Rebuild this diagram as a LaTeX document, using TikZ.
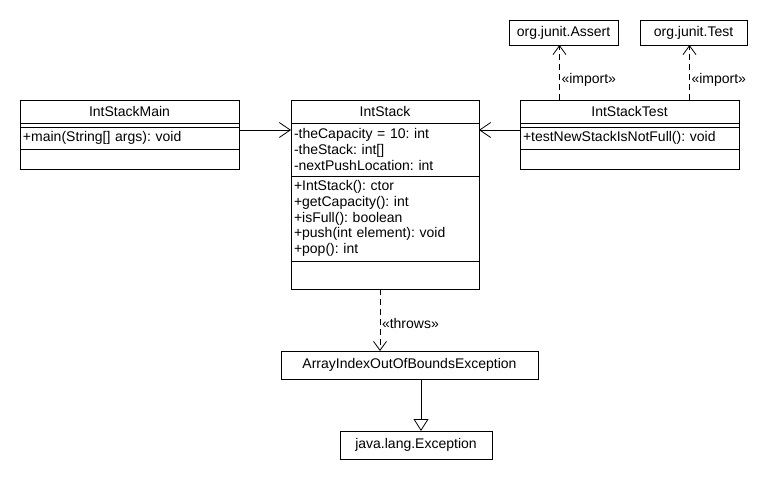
\documentclass[tikz,border=0pt]{standalone}
\usepackage{fontspec}
\setmainfont{Liberation Sans}
\usetikzlibrary{arrows.meta,positioning}
\frenchspacing

\begin{document}
\begin{tikzpicture}[
  x=1pt, y=-1pt,
  every node/.style = {font=\fontsize{14}{15.8}\selectfont, outer sep=0pt},
  head/.style  = {rectangle, draw=black, line width=0.8pt, inner sep=0pt,
                  minimum width=#1, minimum height=23pt, anchor=north west},
  part/.style  = {rectangle, draw=black, line width=0.8pt, text width=#1,
                  inner xsep=3pt, inner ysep=0pt, align=left},
  plain/.style = {rectangle, draw=black, line width=0.8pt, inner sep=0pt,
                  minimum width=#1, anchor=north west},
  assoc/.style = {-{Straight Barb[length=11pt, width=15pt]}, line width=0.8pt},
  dep/.style   = {-{Straight Barb[length=9pt, width=13pt]}, line width=0.8pt,
                  dash pattern=on 6pt off 4pt},
  gen/.style   = {-{Triangle[open, length=12pt, width=15pt]}, line width=0.8pt},
  stereo/.style = {inner sep=2pt}
]
\useasboundingbox (0,0) rectangle (780,480);

%% ─── IntStackMain ───────────────────────────────────────────────
\node[head=219pt] (mainT) at (20,100) {IntStackMain};
\node[part=213pt, minimum height=4pt, below=0pt of mainT] (mainA) {};
\node[part=213pt, minimum height=22pt, below=0pt of mainA] (mainM)
  {+main(String[] args): void};
\node[part=213pt, minimum height=20pt, below=0pt of mainM] (mainE) {};

%% ─── IntStack ───────────────────────────────────────────────────
\node[head=188pt] (stackT) at (291,100) {IntStack};
\node[part=182pt, minimum height=53pt, below=0pt of stackT] (stackA)
  {-theCapacity = 10: int\\
   -theStack: int[]\\
   -nextPushLocation: int};
\node[part=182pt, minimum height=85pt, below=0pt of stackA] (stackM)
  {+IntStack(): ctor\\
   +getCapacity(): int\\
   +isFull(): boolean\\
   +push(int element): void\\
   +pop(): int};
\node[part=182pt, minimum height=28pt, below=0pt of stackM] (stackE) {};

%% ─── IntStackTest ───────────────────────────────────────────────
\node[head=219pt] (testT) at (520,100) {IntStackTest};
\node[part=213pt, minimum height=4pt, below=0pt of testT] (testA) {};
\node[part=213pt, minimum height=22pt, below=0pt of testA] (testM)
  {+testNewStackIsNotFull(): void};
\node[part=213pt, minimum height=20pt, below=0pt of testM] (testE) {};

%% ─── imported / thrown classes ──────────────────────────────────
\node[plain=109pt, minimum height=25pt] (assert) at (509,20) {org.junit.Assert};
\node[plain=107pt, minimum height=25pt] (junit)  at (640,20) {org.junit.Test};
\node[plain=257pt, minimum height=28pt] (aioobe) at (281,351)
  {ArrayIndexOutOfBoundsException};
\node[plain=152pt, minimum height=28pt] (exc)    at (340,431)
  {java.lang.Exception};

%% ─── Associations ───────────────────────────────────────────────
\draw[assoc] ([yshift=-7pt]mainT.south east) -- ([yshift=-7pt]stackT.south west);
\draw[assoc] ([yshift=-7pt]testT.south west) -- ([yshift=-7pt]stackT.south east);

%% ─── Dependencies ───────────────────────────────────────────────
\draw[dep] ([xshift=-4pt]assert.south |- testT.north) -- ([xshift=-4pt]assert.south)
  node[stereo, pos=0.36, anchor=west] {«import»};
\draw[dep] ([xshift=-4pt]junit.south |- testT.north) -- ([xshift=-4pt]junit.south)
  node[stereo, pos=0.36, anchor=west] {«import»};
\draw[dep] ([xshift=-5pt]stackE.south) -- ([xshift=-5pt]stackE.south |- aioobe.north)
  node[stereo, pos=0.55, anchor=west] {«throws»};

%% ─── Generalization ─────────────────────────────────────────────
\draw[gen] ([xshift=5pt]exc.north |- aioobe.south) -- ([xshift=5pt]exc.north);

\end{tikzpicture}
\end{document}
